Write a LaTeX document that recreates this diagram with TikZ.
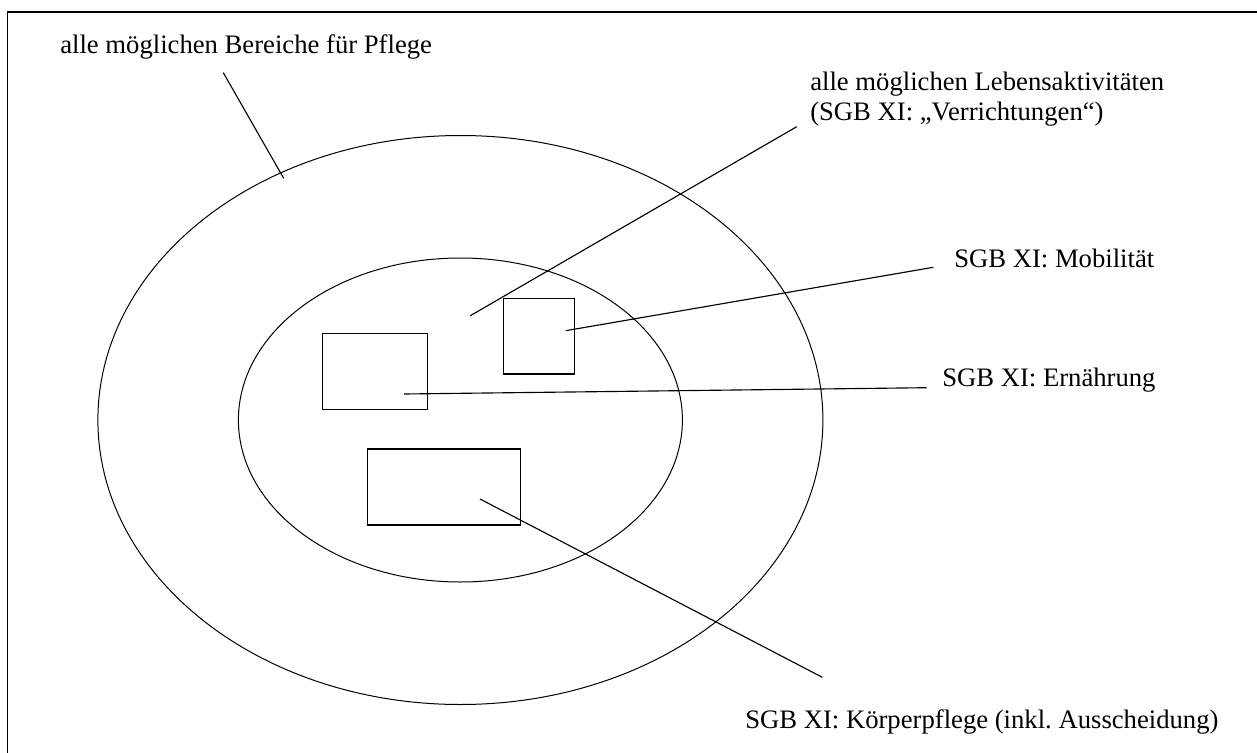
\documentclass[tikz,border=0pt]{standalone}
\usepackage{fontspec}
\setmainfont{Liberation Serif}
\usetikzlibrary{shapes.geometric}
\begin{document}
\begin{tikzpicture}[x=0.75pt,y=-0.75pt,
  lbl/.style={anchor=base west,inner sep=0pt,font=\fontsize{20}{22.5}\selectfont},
  ring/.style={draw,ellipse,inner sep=0pt,outer sep=0pt,line width=0.75pt},
  box/.style={draw,rectangle,inner sep=0pt,outer sep=0pt,line width=1pt},
  lead/.style={line width=0.85pt}]
\useasboundingbox (0,0) rectangle (1257,753);
\draw[line width=1.4pt] (7.5,760) -- (7.5,12) -- (1265,12);
% ellipses
\node[ring,minimum width=543.75pt,minimum height=426.75pt] (outer) at (460.4,420) {};
\node[ring,minimum width=333pt,minimum height=243pt] (inner) at (460.4,420) {};
% boxes
\node[box,minimum width=78.75pt,minimum height=57pt] (ern) at (374.8,371.7) {};
\node[box,minimum width=52.95pt,minimum height=56.8pt] (mob) at (539,336.2) {};
\node[box,minimum width=114.75pt,minimum height=57pt] (koe) at (443.8,487) {};
% labels
\node[lbl] (tBer) at (60,53) {alle möglichen Bereiche für Pflege};
\node[lbl] (tLebA) at (810,90) {alle möglichen Lebensaktivitäten};
\node[lbl] (tLebB) at (810,120) {(SGB XI: „Verrichtungen“)};
\node[lbl] (tMob) at (954,267) {SGB XI: Mobilität};
\node[lbl] (tErn) at (942,386) {SGB XI: Ernährung};
\node[lbl] (tKoe) at (745,728) {SGB XI: Körperpflege (inkl.\ Ausscheidung)};
% leader ends
\coordinate (b1) at (223.3,72.7);  \coordinate (b2) at (283.7,178.3);
\coordinate (v1) at (796.7,126.7); \coordinate (v2) at (470.3,315.7);
\coordinate (m1) at (933.3,267.3); \coordinate (m2) at (565.7,330.7);
\coordinate (e1) at (926.7,387.7); \coordinate (e2) at (404,394);
\coordinate (k1) at (822.3,677.3); \coordinate (k2) at (480,499);
\draw[lead] (b1) -- (b2);
\draw[lead] (v1) -- (v2);
\draw[lead] (m1) -- (m2);
\draw[lead] (e1) -- (e2);
\draw[lead] (k1) -- (k2);
\end{tikzpicture}
\end{document}
